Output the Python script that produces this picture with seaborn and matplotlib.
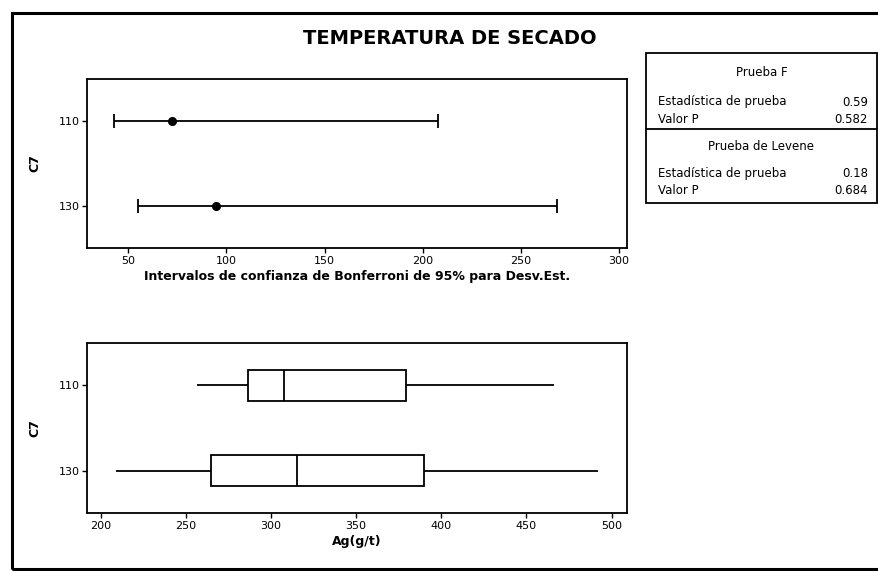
import numpy as np
import pandas as pd
import matplotlib.pyplot as plt
import seaborn as sns
from matplotlib.patches import Rectangle
from matplotlib.lines import Line2D

# Datos
grupos = ["110", "130"]
desv_est = [72.5, 94.8]
ic_inferior = [43.0, 55.0]
ic_superior = [207.5, 268.5]

# cinco numeros de cada caja (min, Q1, mediana, Q3, max)
ag_110 = [256.5, 286.5, 307.5, 379.0, 466.0]
ag_130 = [209.0, 264.5, 315.5, 390.0, 492.0]

estadisticos_f = ["0.59", "0.582"]
estadisticos_levene = ["0.18", "0.684"]

W, H = 879, 571


def fx(px):
    return px / W


def fy(py):
    return 1 - py / H


sns.set_theme(style="white")
plt.rcParams['font.family'] = ['DejaVu Sans']
plt.rcParams['axes.edgecolor'] = 'black'
plt.rcParams['axes.linewidth'] = 1.3
plt.rcParams['text.color'] = 'black'
plt.rcParams['axes.labelcolor'] = 'black'
plt.rcParams['xtick.color'] = 'black'
plt.rcParams['ytick.color'] = 'black'

fig = plt.figure(figsize=(W / 100, H / 100), dpi=100)
fig.patch.set_facecolor('white')

# marco exterior
fig.add_artist(Rectangle((fx(12), fy(569)), fx(900) - fx(12), fy(13) - fy(569),
                         transform=fig.transFigure, fill=False, lw=2.2, ec='black'))

fig.text(fx(450), fy(38), "TEMPERATURA DE SECADO", ha='center', va='center',
         fontsize=14, fontweight='bold')

# panel superior: intervalos de confianza
ax1 = fig.add_axes([fx(87), fy(248), fx(627) - fx(87), fy(79) - fy(248)])
pos = np.arange(len(grupos))
xerr = [np.array(desv_est) - np.array(ic_inferior), np.array(ic_superior) - np.array(desv_est)]
ax1.errorbar(desv_est, pos, xerr=xerr, fmt='none', ecolor='black', elinewidth=1.3,
             capsize=5, capthick=1.3, zorder=2)
df_ic = pd.DataFrame({"C7": grupos, "desv": desv_est})
sns.pointplot(data=df_ic, x="desv", y="C7", order=grupos, linestyle="none",
              color="black", markersize=4.5, errorbar=None, ax=ax1, zorder=3)
ax1.set_xlim(29, 304)
ax1.set_ylim(1.49, -0.49)
ax1.set_xticks([50, 100, 150, 200, 250, 300])
ax1.set_xlabel("Intervalos de confianza de Bonferroni de 95% para Desv.Est.",
               fontsize=9, fontweight='bold', labelpad=3)
ax1.set_ylabel("C7", fontsize=9, fontweight='bold')
ax1.yaxis.set_label_coords(-0.085, 0.5)

# panel inferior: diagramas de caja
df_ag = pd.DataFrame({
    "C7": [grupos[0]] * len(ag_110) + [grupos[1]] * len(ag_130),
    "Ag": ag_110 + ag_130,
})
ax2 = fig.add_axes([fx(87), fy(513), fx(627) - fx(87), fy(343) - fy(513)])
sns.boxplot(data=df_ag, x="Ag", y="C7", order=grupos, orient="h", whis=np.inf,
            width=0.36, color="white", linecolor="black", linewidth=1.3,
            showcaps=False, ax=ax2)
ax2.set_xlim(192, 509)
ax2.set_ylim(1.49, -0.49)
ax2.set_xticks([200, 250, 300, 350, 400, 450, 500])
ax2.set_xlabel("Ag(g/t)", fontsize=9, fontweight='bold', labelpad=3)
ax2.set_ylabel("C7", fontsize=9, fontweight='bold')
ax2.yaxis.set_label_coords(-0.085, 0.5)

for ax in (ax1, ax2):
    ax.set_facecolor('white')
    for s in ax.spines.values():
        s.set_visible(True)
        s.set_color('black')
    ax.tick_params(axis='both', direction='out', length=3.5, width=1, labelsize=8,
                   pad=2, bottom=True, left=True, colors='black')

# tabla de pruebas
tx0, tx1 = 646, 877
fig.add_artist(Rectangle((fx(tx0), fy(203)), fx(tx1) - fx(tx0), fy(53) - fy(203),
                         transform=fig.transFigure, fill=False, lw=1.3, ec='black'))
fig.add_artist(Line2D([fx(tx0), fx(tx1)], [fy(129), fy(129)],
                      transform=fig.transFigure, lw=1.3, color='black'))
tc = (tx0 + tx1) / 2
fs = 8.5
fig.text(fx(tc), fy(73), "Prueba F", ha='center', va='center', fontsize=fs)
fig.text(fx(658), fy(102), "Estadística de prueba", ha='left', va='center', fontsize=fs)
fig.text(fx(868), fy(102), estadisticos_f[0], ha='right', va='center', fontsize=fs)
fig.text(fx(658), fy(120), "Valor P", ha='left', va='center', fontsize=fs)
fig.text(fx(868), fy(120), estadisticos_f[1], ha='right', va='center', fontsize=fs)
fig.text(fx(tc), fy(147), "Prueba de Levene", ha='center', va='center', fontsize=fs)
fig.text(fx(658), fy(173), "Estadística de prueba", ha='left', va='center', fontsize=fs)
fig.text(fx(868), fy(173), estadisticos_levene[0], ha='right', va='center', fontsize=fs)
fig.text(fx(658), fy(191), "Valor P", ha='left', va='center', fontsize=fs)
fig.text(fx(868), fy(191), estadisticos_levene[1], ha='right', va='center', fontsize=fs)

fig.savefig("out.png", dpi=100, facecolor='white')
